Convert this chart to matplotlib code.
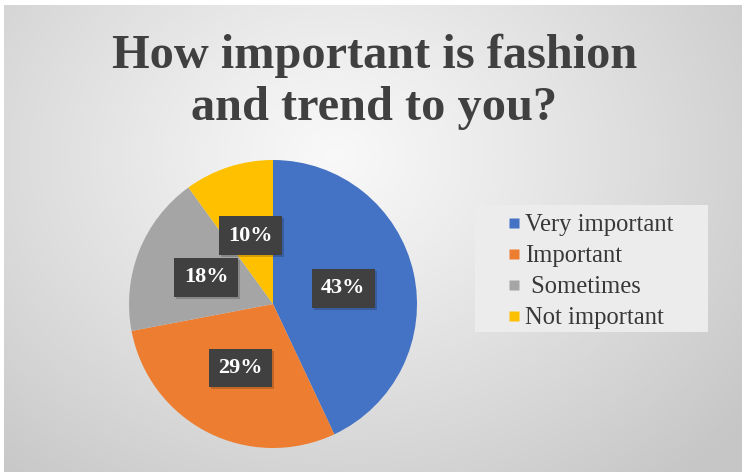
import numpy as np
import matplotlib
matplotlib.use("Agg")
import matplotlib.pyplot as plt
from matplotlib.lines import Line2D
from matplotlib.patches import Rectangle

categories = ["Very important", "Important", " Sometimes", "Not important"]
values = [43, 29, 18, 10]
colors = ["#4472C4", "#ED7D31", "#A5A5A5", "#FFC000"]
title_lines = ["How important is fashion", "and trend to you?"]

W, H = 742, 472
fig = plt.figure(figsize=(W / 100, H / 100), dpi=100)
fig.patch.set_facecolor("white")

# background radial gradient
bg = fig.add_axes([4 / W, 0, 1 - 4 / W, 1 - 5 / H])
bg.set_axis_off()
ny, nx = 467, 738
yy, xx = np.mgrid[0:ny, 0:nx]
cx, cy = 330, 150
d = np.sqrt(((xx - cx) / 520) ** 2 + ((yy - cy) / 420) ** 2)
d = np.clip(d, 0, 1)
g = 0.975 - (0.975 - 0.78) * d ** 1.1
bg.imshow(np.dstack([g, g, g]), aspect="auto", extent=[0, 1, 0, 1], zorder=0)
bg.set_xlim(0, 1)
bg.set_ylim(0, 1)

# title
serif = ["Liberation Serif", "DejaVu Serif"]
fig.text(375 / W, 1 - 68 / H, title_lines[0], ha="center", va="baseline",
         fontsize=34.8, fontweight="bold", family=serif, color="#404040")
fig.text(374 / W, 1 - 120 / H, title_lines[1], ha="center", va="baseline",
         fontsize=34.8, fontweight="bold", family=serif, color="#404040")

# pie
cxp, cyp, r = 273, 304, 144
ax = fig.add_axes([(cxp - r) / W, (H - cyp - r) / H, 2 * r / W, 2 * r / H])
ax.set_axis_off()
wedges, texts, autotexts = ax.pie(values, colors=colors, startangle=90, counterclock=False,
                                  autopct=lambda p: f"{p:.0f}%", pctdistance=0.5,
                                  wedgeprops=dict(linewidth=0))
ax.set_xlim(-1, 1)
ax.set_ylim(-1, 1)
for t in autotexts:
    t.set_color("white")
    t.set_fontsize(16)
    t.set_fontweight("bold")
    t.set_family(serif)
    t.set_zorder(5)
    t.set_bbox(dict(boxstyle="square,pad=0.42", fc="#404040", ec="none"))

# legend background
fig.patches.append(Rectangle((475 / W, 1 - 332 / H), 233 / W, 127 / H,
                             transform=fig.transFigure, facecolor="#ececec",
                             edgecolor="none", zorder=1))

# legend
handles = [Line2D([], [], marker="s", linestyle="none", markersize=7.5,
                  markerfacecolor=c, markeredgecolor="none") for c in colors]
leg = fig.legend(handles, categories, loc="upper left",
                 bbox_to_anchor=(507 / W, 1 - 214 / H),
                 prop=dict(family=serif, size=17.7), frameon=False,
                 handlelength=0.55, handletextpad=0.2, labelspacing=0.36,
                 borderpad=0, borderaxespad=0)
for t in leg.get_texts():
    t.set_color("#383838")

# subtle shadows behind the data label boxes
fig.canvas.draw()
for t in autotexts:
    bb = t.get_bbox_patch().get_window_extent()
    ax.add_patch(Rectangle((bb.x0 + 2, bb.y0 - 2), bb.width, bb.height,
                           transform=None, facecolor=(0, 0, 0, 0.18),
                           edgecolor="none", zorder=4))

fig.savefig("out.png", dpi=100)
